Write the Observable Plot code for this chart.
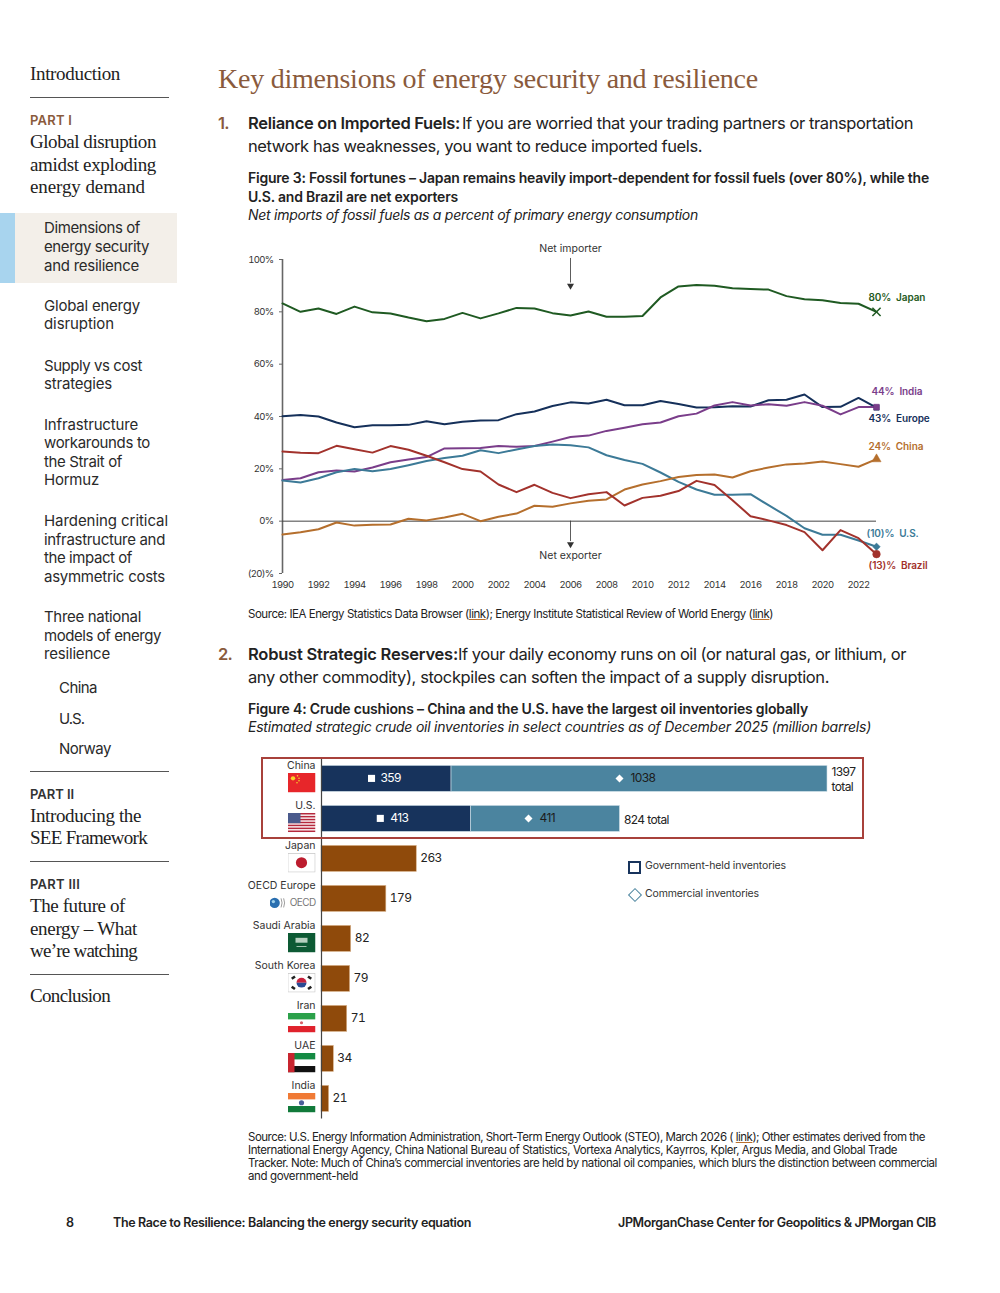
<!DOCTYPE html>
<html><head><meta charset="utf-8">
<script src="https://cdn.jsdelivr.net/npm/d3@7"></script>
<script src="https://cdn.jsdelivr.net/npm/@observablehq/plot@0.6"></script>
<style>
html,body{margin:0;padding:0;background:#fff}
#page{position:relative;width:1000px;height:1293px;overflow:hidden;font-family:Inter,"Noto Sans",sans-serif;color:#222}
.t{position:absolute;white-space:nowrap;line-height:1.2}
.l{color:#222;text-decoration:underline;text-decoration-color:#b8702e}
.box{position:absolute}
.holder{position:absolute}
.holder svg{overflow:visible;background:transparent;max-width:none}
</style></head><body><div id="page"></div>
<script>
// ---------- Figure 3 data (percent of primary energy) ----------
const years = d3.range(1990, 2024);
const japan  = [83.2,80,81.3,79.2,82,79.8,79.4,77.8,76.4,77.3,79.6,77.5,79.4,81.5,81.3,79.5,78.6,80.1,78.1,78.1,78.4,85.5,89.7,90.3,90,89,88.7,88.5,86,84.8,84.4,83.4,83.1,80];
const europe = [40.1,40.6,40,37.7,35.9,36.7,36.7,36.8,38.2,37,38,38.5,38.6,40.9,41.9,44,45.4,45,46.4,44.3,44.3,45.9,44.8,43.4,43.5,43.9,43.8,46.2,46.4,48.4,43.6,43.7,47.1,43.4];
const india  = [15.7,16.4,18.7,19.4,19,20.5,22.5,23.6,24.5,27.8,27.9,28,28.7,28.4,28.7,30.4,32.2,32.7,34.5,35.7,37,37.7,40.1,41.1,44.2,45.5,44.2,44.7,44.1,45.5,44.1,40.8,43.6,43.6];
const us     = [15.5,14.8,16.4,18.7,19.9,19.1,19.9,21.4,23,24.1,25,27.1,26,27.4,28.7,29.3,29,28.2,25.2,23.4,21.9,18.6,15,12.1,10.1,10.1,10.3,6.1,2,-2.7,-5.2,-5.2,-7.4,-9.8];
const china  = [-5.1,-4.2,-3.1,-0.5,-1.7,-1.4,-1.3,0.9,0.3,1.4,2.8,0,1.7,2.9,5.9,5.5,6.8,7.8,8.3,12.1,14,15.3,16.9,17.6,17.8,16.7,19.1,20.5,21.7,22,22.8,21.8,20.8,23.7];
const brazil = [26.6,26.1,26,28.8,27.5,26.2,28.7,27.3,25,22.5,19.9,19,14,11.1,13.9,10.8,8.8,10.3,11.1,6,8.9,9.7,11.5,15.4,13.8,8,1.9,0.3,-1.5,-4.2,-11.1,-3.4,-6.5,-12.6];
const lineTicksY = [100,80,60,40,20,0,-20];
const lineTicksX = d3.range(1990, 2023, 2);

// ---------- Figure 4 data (million barrels) ----------
const stackCountries = ["China","U.S."];
const govHeld    = [359,413];
const commercial = [1038,411];
const totalLabels = ["1397\ntotal","824 total"];
const otherCountries = ["Japan","OECD Europe","Saudi Arabia","South Korea","Iran","UAE","India"];
const otherValues    = [263,179,82,79,71,34,21];

// ---------- colours ----------
const C = {japan:"#1f5a22",europe:"#15305a",india:"#7a3d8a",us:"#3c7a97",china:"#b56f2d",brazil:"#a2322c",
  gov:"#17335c",com:"#4b849f",other:"#8f4a0b",box:"#a8413b",brown:"#8a5a3c"};

const page = document.getElementById("page");
function box(x,y,w,h,css){const d=document.createElement("div");d.className="box";
  d.style.cssText=`left:${x}px;top:${y}px;width:${w}px;height:${h}px;${css}`;page.appendChild(d);return d;}
// text line: x = left, yc = vertical centre, w = target width
function t(x,yc,html,w,o={}){const s=document.createElement("div");s.className="t";
  const size=o.size||16;
  s.style.cssText=`left:${x}px;top:${yc-size*0.6+0.5}px;font-size:${size}px;font-weight:${o.weight||400};color:${o.color||"#222"};`+
   `font-family:${o.family||'Inter,sans-serif'};font-style:${o.italic?"italic":"normal"};`;
  s.innerHTML=html;page.appendChild(s);
  if(w){const m=s.getBoundingClientRect().width;const n=s.textContent.length;s.style.letterSpacing=((w-m)/n).toFixed(3)+"px";}
  return s;}
const SERIF="'Liberation Serif',serif";
const rule=y=>box(30,y,139,1,"background:#555");

// ---------- sidebar ----------
box(0,213,15,70,"background:#a8d4ee");
box(15,213,162,70,"background:#f3efe9");
const serif=(x,y,s,w)=>t(x,y,s,w,{family:SERIF,size:19,color:"#222"});
serif(30,74,"Introduction",90);
rule(97);
t(30,120,"PART I",42,{size:13,weight:600,color:C.brown});
serif(30,142,"Global disruption",126);
serif(30,165,"amidst exploding",126);
serif(30,187,"energy demand",115);
const nav=(x,y,s,w)=>t(x,y,s,w,{size:15,color:"#2a2a2a"});
nav(44,227,"Dimensions of",96);nav(44,246,"energy security",105);nav(44,265,"and resilience",95);
nav(44,305,"Global energy",96);nav(44,323,"disruption",70);
nav(44,365,"Supply vs cost",98);nav(44,383,"strategies",68);
nav(44,424,"Infrastructure",94);nav(44,442,"workarounds to",106);nav(44,461,"the Strait of",78);nav(44,479,"Hormuz",55);
nav(44,520,"Hardening critical",124);nav(44,539,"infrastructure and",121);nav(44,557,"the impact of",88);nav(44,576,"asymmetric costs",121);
nav(44,616,"Three national",97);nav(44,635,"models of energy",117);nav(44,653,"resilience",66);
nav(59,687,"China",38);nav(59,718,"U.S.",25);nav(59,748,"Norway",52);
rule(771);
t(30,794,"PART II",44,{size:13,weight:600,color:"#333"});
serif(30,816,"Introducing the",111);serif(30,838,"SEE Framework",117);
rule(861);
t(30,884,"PART III",50,{size:13,weight:600,color:"#333"});
serif(30,906,"The future of",95);serif(30,929,"energy – What",107);serif(30,951,"we’re watching",107);
rule(974);
serif(30,996,"Conclusion",80);

// ---------- main text ----------
t(218,78,"Key dimensions of energy security and resilience",540,{family:SERIF,size:28,color:C.brown});
t(218,123,"1.",11,{size:16.5,weight:600,color:C.brown});
t(248,123,"Reliance on Imported Fuels:",212,{size:16.5,weight:600});
t(462,123,"If you are worried that your trading partners or transportation",451,{size:16.5});
t(248,146,"network has weaknesses, you want to reduce imported fuels.",454,{size:16.5});
t(248,178,"Figure 3: Fossil fortunes – Japan remains heavily import-dependent for fossil fuels (over 80%), while the",681,{size:14,weight:600});
t(248,197,"U.S. and Brazil are net exporters",210,{size:14,weight:600});
t(248,215,"Net imports of fossil fuels as a percent of primary energy consumption",450,{size:14,italic:true});
t(248,614,'Source: IEA Energy Statistics Data Browser (<span class="l">link</span>); Energy Institute Statistical Review of World Energy (<span class="l">link</span>)',525,{size:11.5});
t(218,654,"2.",14,{size:16.5,weight:600,color:C.brown});
t(248,654,"Robust Strategic Reserves:",210,{size:16.5,weight:600});
t(458,654,"If your daily economy runs on oil (or natural gas, or lithium, or",448,{size:16.5});
t(248,677,"any other commodity), stockpiles can soften the impact of a supply disruption.",581,{size:16.5});
t(248,709,"Figure 4: Crude cushions – China and the U.S. have the largest oil inventories globally",560,{size:14,weight:600});
t(248,727,"Estimated strategic crude oil inventories in select countries as of December 2025 (million barrels)",623,{size:14,italic:true});
t(248,1137,'Source: U.S. Energy Information Administration, Short-Term Energy Outlook (STEO), March 2026 ( <span class="l">link</span>); Other estimates derived from the',677,{size:11.5});
t(248,1150,"International Energy Agency, China National Bureau of Statistics, Vortexa Analytics, Kayrros, Kpler, Argus Media, and Global Trade",649,{size:11.5});
t(248,1163,"Tracker. Note: Much of China’s commercial inventories are held by national oil companies, which blurs the distinction between commercial",689,{size:11.5});
t(248,1176,"and government-held",110,{size:11.5});
t(66,1222,"8",8,{size:12.5,weight:600});
t(113,1222,"The Race to Resilience: Balancing the energy security equation",358,{size:12.5,weight:600});
t(618,1222,"JPMorganChase Center for Geopolitics &amp; JPMorgan CIB",318,{size:12.5,weight:600});

// ---------- Figure 3 ----------
const seriesList = [["Japan",japan,C.japan],["Europe",europe,C.europe],["India",india,C.india],["U.S.",us,C.us],["China",china,C.china],["Brazil",brazil,C.brazil]];
const long = seriesList.flatMap(([name,vals,color])=>vals.map((v,i)=>({name,year:years[i],v,color})));
const last = name=>long.filter(d=>d.name===name&&d.year===2023);
const endLabel=(name,text,color,dx,dy)=>Plot.text(last(name),{x:"year",y:"v",text:()=>text,fill:color,dx,dy,textAnchor:"start",fontWeight:600,fontSize:10,fontFamily:"Inter,sans-serif"});
const endDot=(name,color,symbol,r)=>Plot.dot(last(name),{x:"year",y:"v",symbol,r,fill:symbol==="times"?"none":color,stroke:color,strokeWidth:symbol==="times"?1.5:0.5});
const pct=d=>d<0?`(${-d})%`:`${d}%`;

const lineChart = Plot.plot({
  width:720,height:360,marginLeft:42,marginRight:84,marginTop:24,marginBottom:22,
  style:{fontFamily:"Inter,sans-serif",background:"transparent",color:"#333",letterSpacing:"-0.65px"},
  x:{domain:[1990,2023],label:null},
  y:{domain:[-20,100],label:null},
  marks:[
    Plot.axisY({ticks:lineTicksY,tickFormat:pct,tickSize:3,tickPadding:6,fontSize:9.5,label:null,stroke:"#666"}),
    Plot.axisX({ticks:lineTicksX,tickFormat:d=>String(d),tickSize:0,tickPadding:8,fontSize:9.5,label:null}),
    Plot.ruleX([1990],{y1:-20,y2:100,stroke:"#666",strokeWidth:1.6}),
    Plot.ruleY([0],{x1:1990,x2:2023,stroke:"#444",strokeWidth:1}),
    Plot.ruleX([2006],{y1:100.4,y2:91,stroke:"#333",strokeWidth:0.8}),
    Plot.dot([2006],{x:d=>d,y:()=>90,symbol:"triangle",rotate:180,r:2.6,fill:"#333",stroke:"none"}),
    Plot.ruleX([2006],{y1:0,y2:-7.8,stroke:"#333",strokeWidth:0.8}),
    Plot.dot([2006],{x:d=>d,y:()=>-8.8,symbol:"triangle",rotate:180,r:2.6,fill:"#333",stroke:"none"}),
    Plot.text(["Net importer"],{x:()=>2006,y:()=>104.2,text:d=>d,fontSize:10.5,fill:"#333"}),
    Plot.text(["Net exporter"],{x:()=>2006,y:()=>-13,text:d=>d,fontSize:10.5,fill:"#333"}),
    Plot.line(long,{x:"year",y:"v",z:"name",stroke:"color",strokeWidth:2,curve:"linear"}),
    endDot("Europe",C.europe,"square",3),
    endDot("India",C.india,"square",3.2),
    endDot("Japan",C.japan,"times",3.8),
    endDot("China",C.china,"triangle",3.4),
    endDot("U.S.",C.us,"diamond2",3.4),
    endDot("Brazil",C.brazil,"circle",3.8),
    endLabel("Japan","80%  Japan",C.japan,-8,-14),
    endLabel("India","44%  India",C.india,-5,-15.5),
    endLabel("Europe","43%  Europe",C.europe,-8,11.5),
    endLabel("China","24%  China",C.china,-8,-12.5),
    endLabel("U.S.","(10)%  U.S.",C.us,-10,-13.5),
    endLabel("Brazil","(13)%  Brazil",C.brazil,-8,11.5)
  ]
});
// the coloured end labels and the annotations keep a more open letter-spacing than the tight ticks
lineChart.querySelectorAll('g[font-weight="600"]').forEach(g=>{g.style.letterSpacing="-0.1px";});
lineChart.querySelectorAll('g[font-size="10.5"]').forEach(g=>{g.style.letterSpacing="0px";});
const h1=document.createElement("div");h1.className="holder";h1.style.cssText="left:240px;top:235px;width:720px;height:360px";
h1.appendChild(lineChart);page.appendChild(h1);

// ---------- Figure 4 ----------
const svgUri=s=>"data:image/svg+xml,"+encodeURIComponent(`<svg xmlns="http://www.w3.org/2000/svg" viewBox="0 0 28 20" preserveAspectRatio="none">${s}</svg>`);
const flags = {
 "China":svgUri(`<rect width="28" height="20" fill="#e7262a"/><circle cx="5.5" cy="5.5" r="2.2" fill="#f8d22c"/><circle cx="10" cy="3" r=".8" fill="#f8d22c"/><circle cx="11.5" cy="5.5" r=".8" fill="#f8d22c"/><circle cx="11.5" cy="8" r=".8" fill="#f8d22c"/><circle cx="9.5" cy="10" r=".8" fill="#f8d22c"/>`),
 "U.S.":svgUri(`<rect width="28" height="20" fill="#fff"/>`+[0,3,6,9,12,15,18].map(y=>`<rect y="${y}" width="28" height="1.6" fill="#b5293d"/>`).join("")+`<rect width="13" height="10.5" fill="#4a5a8c"/>`),
 "Japan":svgUri(`<rect x=".4" y=".4" width="27.2" height="19.2" fill="#fff" stroke="#c4c4c4" stroke-width=".8"/><circle cx="14" cy="10" r="5.6" fill="#bc1c2e"/>`),
 "Saudi Arabia":svgUri(`<rect width="28" height="20" fill="#0d5a34"/><rect x="8" y="5" width="12" height="5" fill="#b6d0bf"/><rect x="9" y="13.5" width="10" height=".8" fill="#cfe0d4"/>`),
 "South Korea":svgUri(`<rect x=".4" y=".4" width="27.2" height="19.2" fill="#fff" stroke="#c4c4c4" stroke-width=".8"/><path d="M9 10a5 5 0 0 1 10 0z" fill="#c8213c"/><path d="M9 10a5 5 0 0 0 10 0z" fill="#2a4a94"/><g fill="#222"><rect x="4" y="3.5" width="4" height="2.6" transform="rotate(-35 6 5)"/><rect x="20" y="3.5" width="4" height="2.6" transform="rotate(35 22 5)"/><rect x="4" y="14" width="4" height="2.6" transform="rotate(35 6 15)"/><rect x="20" y="14" width="4" height="2.6" transform="rotate(-35 22 15)"/></g>`),
 "Iran":svgUri(`<rect width="28" height="20" fill="#fff"/><rect width="28" height="6.6" fill="#2ba14a"/><rect y="13.4" width="28" height="6.6" fill="#e0222c"/><circle cx="14" cy="10" r="1.6" fill="#d8606a"/>`),
 "UAE":svgUri(`<rect width="28" height="20" fill="#fff"/><rect width="28" height="6.6" fill="#148a43"/><rect y="13.4" width="28" height="6.6" fill="#111"/><rect width="7" height="20" fill="#c8252f"/>`),
 "India":svgUri(`<rect width="28" height="20" fill="#fff"/><rect width="28" height="6.6" fill="#f07a35"/><rect y="13.4" width="28" height="6.6" fill="#117a3a"/><circle cx="14" cy="10" r="2.6" fill="#4a5e9a"/>`)
};
const oecdLogo = svgUri(`<circle cx="8" cy="10" r="8" fill="#2a6fb0"/><circle cx="6" cy="8" r="2.6" fill="#9fd0ea"/><path d="M18 3q3 7 0 14M22 3q3 7 0 14" fill="none" stroke="#9a9a9a" stroke-width="1.5"/>`);

const stack = stackCountries.flatMap((name,i)=>[
  {name,kind:"gov",x1:0,x2:govHeld[i],v:String(govHeld[i])},
  {name,kind:"com",x1:govHeld[i],x2:govHeld[i]+commercial[i],v:String(commercial[i])}]);
const gov = stack.filter(d=>d.kind==="gov");
const com = stack.filter(d=>d.kind==="com");
const totals = stackCountries.map((name,i)=>({name,total:govHeld[i]+commercial[i],label:totalLabels[i]}));
const others = otherCountries.map((name,i)=>({name,v:otherValues[i]}));
const allNames = [...stackCountries,...otherCountries];
const flagRows = allNames.filter(n=>flags[n]).map(name=>({name,src:flags[name]}));
const mid = d=>(d.x1+d.x2)/2;
const valStyle={fontSize:12,fontFamily:"Inter,sans-serif"};
const barPair=(row,dotDx,textDx,symbol,fill)=>[
  Plot.dot(row,{x:mid,y:"name",symbol,r:symbol==="square"?4:3.6,fill:"#fff",stroke:"none",dx:dotDx,dy:-0.5}),
  Plot.text(row,{x:mid,y:"name",text:"v",textAnchor:"start",dx:textDx,dy:-1,fill,...valStyle})];

const barChart = Plot.plot({
  width:640,height:380,marginLeft:81,marginRight:53,marginTop:8.4,marginBottom:11.6,
  style:{fontFamily:"Inter,sans-serif",background:"transparent",color:"#333",letterSpacing:"-0.6px"},
  x:{domain:[0,1397],axis:null},
  y:{domain:allNames,axis:null,padding:0,round:false},
  marks:[
    Plot.barX(gov,{x1:"x1",x2:"x2",y:"name",fill:C.gov,stroke:"#cfe0e8",strokeWidth:0.6,insetTop:7,insetBottom:7}),
    Plot.barX(com,{x1:"x1",x2:"x2",y:"name",fill:C.com,stroke:"#cfe0e8",strokeWidth:0.6,insetTop:7,insetBottom:7}),
    Plot.barX(others,{x1:()=>0,x2:"v",y:"name",fill:C.other,stroke:"#d9b38c",strokeWidth:0.6,insetTop:7,insetBottom:7}),
    Plot.ruleX([0],{stroke:"#444",strokeWidth:1.2}),
    ...barPair(gov.filter(d=>d.name==="China"),-15,-6,"square","#fff"),
    ...barPair(gov.filter(d=>d.name==="U.S."),-16,-6,"square","#fff"),
    ...barPair(com.filter(d=>d.name==="China"),-20,-9,"diamond2","#1c1c1c"),
    ...barPair(com.filter(d=>d.name==="U.S."),-17,-6,"diamond2","#1c1c1c"),
    Plot.text(totals,{x:"total",y:"name",text:"label",textAnchor:"start",dx:4,lineHeight:1.2,fill:"#222",...valStyle}),
    Plot.text(others,{x:"v",y:"name",text:"v",textAnchor:"start",dx:3.5,dy:-1,fill:"#222",...valStyle}),
    Plot.text(allNames,{x:()=>0,y:d=>d,text:d=>d,textAnchor:"end",dx:-6,dy:-13.5,fontSize:10.5,fill:"#333"}),
    Plot.image(flagRows,{x:()=>0,y:"name",src:"src",width:28,height:19.5,dx:-20,dy:3.8,preserveAspectRatio:"none"}),
    Plot.image(["OECD Europe"],{x:()=>0,y:d=>d,src:()=>oecdLogo,width:18,height:13,dx:-43,dy:4,preserveAspectRatio:"none"}),
    Plot.text(["OECD Europe"],{x:()=>0,y:d=>d,text:()=>"OECD",textAnchor:"end",dx:-6,dy:4,fontSize:10,fill:"#777"})
  ]
});
barChart.querySelectorAll('g[font-size="10.5"]').forEach(g=>{g.style.letterSpacing="0px";});
const h2=document.createElement("div");h2.className="holder";h2.style.cssText="left:240px;top:750px;width:640px;height:380px";
h2.appendChild(barChart);page.appendChild(h2);

// highlight box and legend
box(261,757,599,78,`border:2px solid ${C.box}`);
box(628,861,9,9,`border:2px solid ${C.gov}`);
box(629.5,890,8,8,`border:1.3px solid ${C.com};transform:rotate(45deg)`);
t(645,866,"Government-held inventories",141,{size:10.5,color:"#333"});
t(645,894,"Commercial inventories",114,{size:10.5,color:"#333"});
</script></body></html>
